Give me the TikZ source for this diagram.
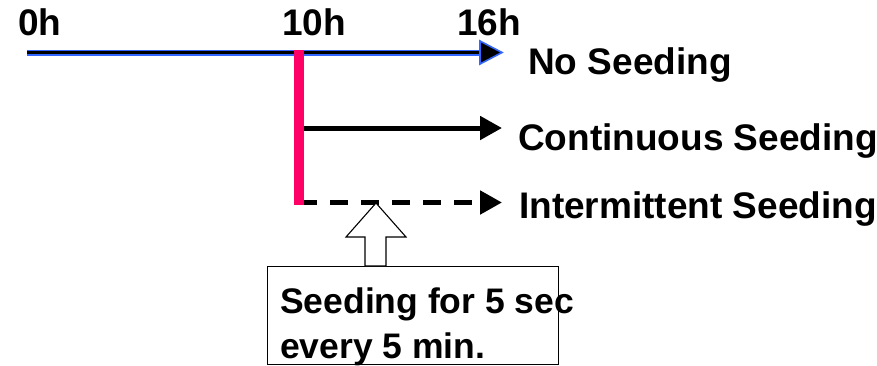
\documentclass[tikz,border=0pt]{standalone}
\usepackage{fontspec}
\setmainfont{Liberation Sans}
\usetikzlibrary{arrows.meta,calc}
\definecolor{axisblue}{RGB}{51,102,255}
\definecolor{markpink}{RGB}{255,0,102}
\tikzset{
  lbl/.style={anchor=base west, inner sep=0pt, font=\bfseries\fontsize{37}{41}\selectfont},
  notetext/.style={lbl, font=\bfseries\fontsize{35.5}{40}\selectfont},
  branch/.style={line width=5pt, -{Triangle[length=22pt,width=23pt]}},
  hollowarrow/.style={draw=black, fill=white, line width=1.1pt, line join=miter},
}
\begin{document}
\begin{tikzpicture}[x=1pt,y=-1pt]
  \useasboundingbox (0,0) rectangle (877,365);

  % time axis
  \coordinate (t0) at (27,52.5);
  \coordinate (tb) at (480,52.5);
  \coordinate (tt) at (502,52.5);
  \draw[axisblue, line width=6pt] (t0) -- (tb);
  \draw[black, line width=2.5pt] (t0) -- (tb);
  \draw[axisblue, fill=black, line width=1.6pt, line join=miter]
    (tt) -- ($(tb)+(0,-11.5)$) -- ($(tb)+(0,11.5)$) -- cycle;

  % hour labels
  \node[lbl] (h0)  at (18,35)  {0h};
  \node[lbl] (h10) at (282,35) {10h};
  \node[lbl] (h16) at (457,35) {16h};

  % seeding start marker
  \coordinate (m0) at (299,50);
  \coordinate (m1) at (299,205);
  \draw[markpink, line width=10pt] (m0) -- (m1);

  % branches
  \coordinate (c0) at (304,128);
  \coordinate (c1) at (502,128);
  \draw[branch] (c0) -- (c1);
  \coordinate (d0) at (304,202.5);
  \coordinate (d1) at (502,202.5);
  \draw[branch, dash pattern=on 18pt off 13pt, dash phase=5pt] (d0) -- (d1);

  % branch labels
  \node[lbl] (ns) at (528,74)  {No Seeding};
  \node[lbl] (cs) at (518,150) {Continuous Seeding};
  \node[lbl] (is) at (519,218) {Intermittent Seeding};

  % note box
  \node (box) [draw, line width=1.2pt, minimum width=291pt, minimum height=98pt,
               anchor=north west, inner sep=0pt] at (267,266) {};

  % hollow arrow pointing at the intermittent line
  \coordinate (at) at (376,203);
  \draw[hollowarrow]
    (at) -- (406,237) -- (386,237) -- (386,266) -- (365,266) -- (365,237) -- (346,237) -- cycle;

  % note text
  \node[notetext] (n1) at (280,313) {Seeding for 5 sec};
  \node[notetext] (n2) at (280,358) {every 5 min.};
\end{tikzpicture}
\end{document}
